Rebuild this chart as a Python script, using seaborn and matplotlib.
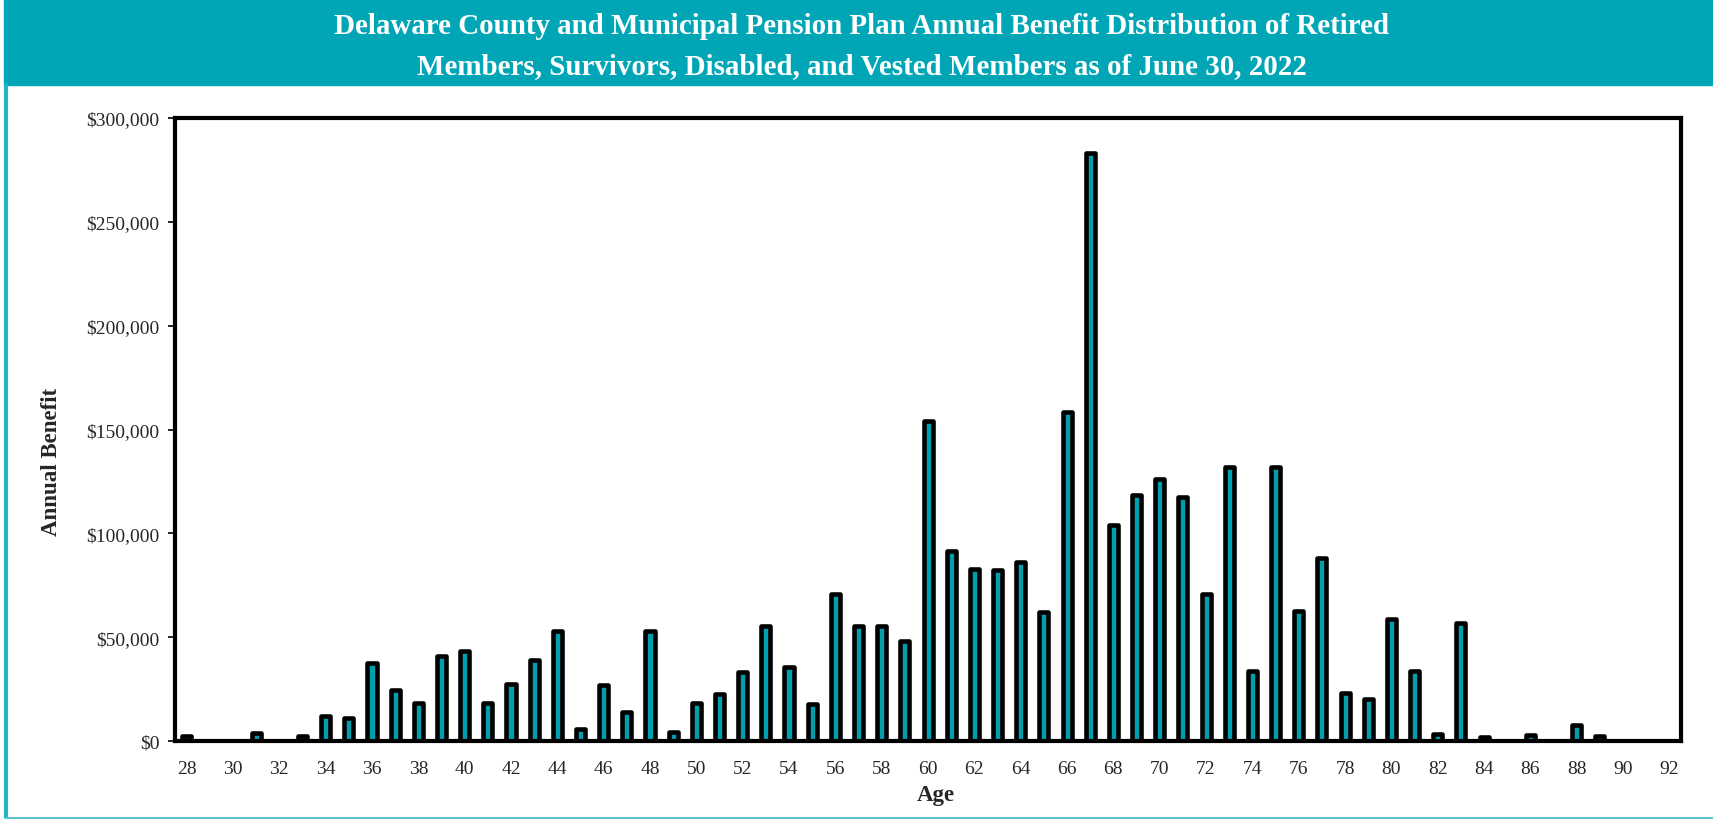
import matplotlib
matplotlib.use("Agg")
import matplotlib.pyplot as plt
import matplotlib.ticker as mticker
from matplotlib.patches import Rectangle
import pandas as pd
import seaborn as sns

# Data
ages = list(range(28, 93))
benefit = [
    2500, 0, 0, 4000, 0, 2400, 12000, 10900, 37500, 24400,      # 28-37
    18200, 41000, 43400, 18200, 27500, 39200, 53000, 5800, 26800, 14200,  # 38-47
    53000, 4200, 18200, 22600, 33300, 55200, 35700, 17700, 70900, 55400,  # 48-57
    55400, 48100, 153900, 91600, 82900, 82300, 86200, 62100, 158300, 282900,  # 58-67
    104000, 118400, 126400, 117500, 70700, 131900, 33900, 131900, 62700, 88000,  # 68-77
    23100, 20000, 58700, 33900, 3300, 56700, 1800, 0, 3100, 0,  # 78-87
    7500, 2200, 0, 0, 0,  # 88-92
]
title_lines = [
    "Delaware County and Municipal Pension Plan Annual Benefit Distribution of Retired",
    "Members, Survivors, Disabled, and Vested Members as of June 30, 2022",
]

df = pd.DataFrame({"Age": [str(a) for a in ages], "Benefit": benefit})

TEAL = "#00A6B5"
BAR = "#009FAC"

sns.set_style("white")
plt.rcParams["font.family"] = ["Liberation Serif", "DejaVu Serif"]

fig = plt.figure(figsize=(17.13, 8.2), dpi=100)
ax = fig.add_axes([0.1022, 0.0951, 0.8791, 0.7598])

sns.barplot(data=df, x="Age", y="Benefit", order=df["Age"], color=BAR,
            edgecolor="black", linewidth=3.3, width=0.39, saturation=1, ax=ax)
for p in ax.patches:
    p.set_joinstyle("round")

ax.set_xlim(-0.5, len(ages) - 0.5)
ax.set_ylim(0, 300000)
ax.yaxis.set_major_locator(mticker.MultipleLocator(50000))
ax.yaxis.set_major_formatter(mticker.FuncFormatter(lambda v, p: f"${v:,.0f}"))
ax.set_xticks(range(0, len(ages), 2))
ax.set_xticklabels([str(a) for a in ages[::2]])
ax.tick_params(axis="y", length=5, width=1.2, color="black", pad=6, labelsize=14, left=True)
ax.tick_params(axis="x", length=0, pad=14, labelsize=14)

for s in ax.spines.values():
    s.set_visible(True)
    s.set_color("black")
    s.set_linewidth(3.0)

ax.set_xlabel("")
ax.set_ylabel("")
fig.text(936 / 1713, 1 - 796 / 820, "Age", ha="center", va="center",
         fontsize=16.5, fontweight="bold")
fig.text(52 / 1713, 1 - 462 / 820, "Annual Benefit", ha="center", va="center",
         rotation=90, fontsize=16.5, fontweight="bold")

# title band and frame
fig.patches.append(Rectangle((4 / 1713, 1 - 86 / 820), 1, 86 / 820,
                             transform=fig.transFigure, color=TEAL, zorder=0))
fig.add_artist(plt.Line2D([5.5 / 1713, 5.5 / 1713], [1 - 86 / 820, 2 / 820],
                          transform=fig.transFigure, color="#22B5C6", linewidth=3))
fig.add_artist(plt.Line2D([5.5 / 1713, 1], [1.5 / 820, 1.5 / 820],
                          transform=fig.transFigure, color="#5CC4CF", linewidth=1.5))
fig.text(862 / 1713, 1 - 27 / 820, title_lines[0], ha="center", va="center",
         color="white", fontsize=20.9, fontweight="bold")
fig.text(862 / 1713, 1 - 67 / 820, title_lines[1], ha="center", va="center",
         color="white", fontsize=20.9, fontweight="bold")

fig.savefig("out.png", dpi=100, facecolor="white")
